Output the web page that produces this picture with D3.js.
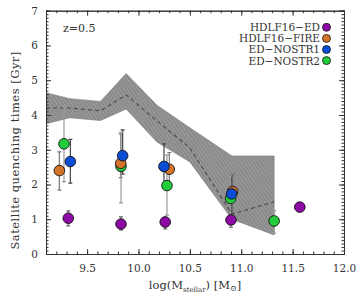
<!DOCTYPE html>
<html>
<head>
<meta charset="utf-8">
<script src="https://cdn.jsdelivr.net/npm/d3@7"></script>
<style>
  body { margin: 0; background: #fff; }
  text { font-family: "DejaVu Serif", "Liberation Serif", serif; fill: #333; }
</style>
</head>
<body>
<svg id="chart" width="357" height="298"></svg>
<script>
// shaded band + median (simulation range)
var bandX   = [9.1, 9.33, 9.63, 9.88, 10.18, 10.5, 10.91, 11.32];
var bandLo  = [3.75, 3.92, 3.84, 4.17, 3.22, 2.65, 1.0, 0.55];
var bandHi  = [4.64, 4.47, 4.39, 5.19, 4.28, 3.63, 2.82, 2.82];
var bandMed = [4.2, 4.2, 4.12, 4.58, 3.83, 3.05, 1.15, 1.5];

// series
var seriesNames = ['HDLF16\u2212ED', 'HDLF16\u2212FIRE', 'ED\u2212NOSTR1', 'ED\u2212NOSTR2'];
var edX   = [9.317, 9.83, 10.26, 10.90, 11.57];
var edY   = [1.03, 0.86, 0.92, 0.98, 1.35];
var edLo  = [0.81, 0.69, 0.72, 0.77, null];
var edHi  = [1.24, 1.07, 1.06, 1.15, null];
var fireX  = [9.23, 9.827, 10.30, 10.916];
var fireY  = [2.40, 2.61, 2.44, 1.80];
var fireLo = [1.84, 2.2, 2.0, 1.2];
var fireHi = [2.94, 3.45, 2.92, 2.3];
var n1X  = [9.337, 9.846, 10.248, 10.906];
var n1Y  = [2.66, 2.83, 2.52, 1.73];
var n1Lo = [2.04, 2.3, 1.9, 1.0];
var n1Hi = [3.30, 3.57, 3.17, 2.25];
var n2X  = [9.275, 9.83, 10.277, 10.897, 11.32];
var n2Y  = [3.17, 2.52, 1.97, 1.60, 0.95];
var n2Lo = [2.08, 1.47, 1.12, 0.9, 0.6];
var n2Hi = [4.25, 3.5, 2.85, 2.25, 1.25];

var xTicks = [9.5, 10.0, 10.5, 11.0, 11.5, 12.0];
var yTicks = [0, 1, 2, 3, 4, 5, 6, 7];

var colors = ['#8e0aa6', '#d4742a', '#0a4ed6', '#22cc3a'];
var errColors = ['#666', '#777', '#444', '#999'];

var svg = d3.select('#chart');
var margin = {top: 10.7, right: 13, bottom: 44, left: 46},
  width = 357 - margin.left - margin.right,
  height = 298 - margin.top - margin.bottom;

var x = d3.scaleLinear().domain([9.1, 12.0]).range([0, width]);
var y = d3.scaleLinear().domain([0, 7]).range([height, 0]);

var defs = svg.append('defs');
var pat = defs.append('pattern')
  .attr('id', 'hatch')
  .attr('patternUnits', 'userSpaceOnUse')
  .attr('width', 3).attr('height', 3)
  .attr('patternTransform', 'rotate(-35)');
pat.append('rect').attr('width', 3).attr('height', 3).attr('fill', '#8a8a8a');
pat.append('rect').attr('width', 1).attr('height', 3).attr('fill', '#9c9c9c');

defs.append('clipPath').attr('id', 'clip')
  .append('rect').attr('width', width).attr('height', height);

var chart = svg.append('g')
  .attr('transform', 'translate(' + margin.left + ',' + margin.top + ')');

var plot = chart.append('g').attr('clip-path', 'url(#clip)');

var band = bandX.map(function(d, i) { return {x: d, lo: bandLo[i], hi: bandHi[i], med: bandMed[i]}; });

plot.append('path')
  .datum(band)
  .attr('fill', 'url(#hatch)')
  .attr('stroke', '#777')
  .attr('stroke-width', 0.6)
  .attr('d', d3.area()
    .x(function(d) { return x(d.x); })
    .y0(function(d) { return y(d.lo); })
    .y1(function(d) { return y(d.hi); }));

plot.append('path')
  .datum(band)
  .attr('fill', 'none')
  .attr('stroke', '#4a4a4a')
  .attr('stroke-width', 1.1)
  .attr('stroke-dasharray', '4,3')
  .attr('d', d3.line()
    .x(function(d) { return x(d.x); })
    .y(function(d) { return y(d.med); }));

var series = [
  {xs: edX, ys: edY, lo: edLo, hi: edHi},
  {xs: fireX, ys: fireY, lo: fireLo, hi: fireHi},
  {xs: n1X, ys: n1Y, lo: n1Lo, hi: n1Hi},
  {xs: n2X, ys: n2Y, lo: n2Lo, hi: n2Hi}
];

// error bars first, then markers on top
series.forEach(function(s, k) {
  var pts = s.xs.map(function(d, i) { return {x: d, y: s.ys[i], lo: s.lo[i], hi: s.hi[i]}; })
    .filter(function(d) { return d.lo != null; });
  var g = plot.append('g').attr('stroke', errColors[k]).attr('stroke-width', 1.2);
  pts.forEach(function(d) {
    g.append('line').attr('x1', x(d.x)).attr('x2', x(d.x)).attr('y1', y(d.lo)).attr('y2', y(d.hi));
    g.append('line').attr('x1', x(d.x) - 2).attr('x2', x(d.x) + 2).attr('y1', y(d.lo)).attr('y2', y(d.lo));
    g.append('line').attr('x1', x(d.x) - 2).attr('x2', x(d.x) + 2).attr('y1', y(d.hi)).attr('y2', y(d.hi));
  });
});

[3, 1, 2, 0].forEach(function(k) {
  var s = series[k];
  plot.selectAll('.pt' + k)
    .data(s.xs.map(function(d, i) { return {x: d, y: s.ys[i]}; }))
    .enter()
    .append('circle')
    .attr('cx', function(d) { return x(d.x); })
    .attr('cy', function(d) { return y(d.y); })
    .attr('r', 5.3)
    .attr('fill', colors[k])
    .attr('stroke', '#111')
    .attr('stroke-width', 0.9);
});

// axes: inward ticks on all four sides
function styleAxis(g) {
  g.select('.domain').attr('stroke', '#333').attr('stroke-width', 1);
  g.selectAll('.tick line').attr('stroke', '#333');
  g.selectAll('.tick text').style('font-size', '10.5px').attr('fill', '#444');
}

var xMinor = d3.range(9.1, 12.001, 0.1);
var yMinor = d3.range(0, 7.001, 0.1);

chart.append('g').attr('transform', 'translate(0,' + height + ')')
  .call(d3.axisBottom(x).tickValues(xMinor).tickSize(-2.5).tickFormat(''))
  .call(styleAxis);
chart.append('g').attr('transform', 'translate(0,' + height + ')')
  .call(d3.axisBottom(x).tickValues(xTicks).tickSizeInner(-5).tickSizeOuter(0)
    .tickPadding(11).tickFormat(d3.format('.1f')))
  .call(styleAxis);
chart.append('g')
  .call(d3.axisTop(x).tickValues(xMinor).tickSize(-2.5).tickFormat(''))
  .call(styleAxis);
chart.append('g')
  .call(d3.axisTop(x).tickValues(xTicks).tickSize(-5).tickFormat(''))
  .call(styleAxis);

chart.append('g')
  .call(d3.axisLeft(y).tickValues(yMinor).tickSize(-2.5).tickFormat(''))
  .call(styleAxis);
chart.append('g')
  .call(d3.axisLeft(y).tickValues(yTicks).tickSizeInner(-5).tickSizeOuter(0)
    .tickPadding(8).tickFormat(d3.format('d')))
  .call(styleAxis);
chart.append('g').attr('transform', 'translate(' + width + ',0)')
  .call(d3.axisRight(y).tickValues(yMinor).tickSize(-2.5).tickFormat(''))
  .call(styleAxis);
chart.append('g').attr('transform', 'translate(' + width + ',0)')
  .call(d3.axisRight(y).tickValues(yTicks).tickSize(-5).tickFormat(''))
  .call(styleAxis);

// labels
chart.append('text')
  .attr('x', 17).attr('y', 21)
  .style('font-size', '11px')
  .text('z=0.5');

svg.append('text')
  .attr('transform', 'translate(19,' + (margin.top + height / 2 + 18) + ') rotate(-90)')
  .attr('text-anchor', 'middle')
  .style('font-size', '11.5px')
  .style('letter-spacing', '0.5px')
  .text('Satellite quenching times [Gyr]');

var xl = svg.append('text')
  .attr('x', margin.left + width / 2).attr('y', 289)
  .attr('text-anchor', 'middle')
  .style('font-size', '11.5px');
xl.append('tspan').text('log(M');
xl.append('tspan').attr('dy', 3).style('font-size', '7px').text('stellar');
xl.append('tspan').attr('dy', -3).text(') [M');
xl.append('tspan').attr('dy', 2).style('font-size', '8px').text('\u2299');
xl.append('tspan').attr('dy', -2).text(']');

// legend
var leg = chart.append('g');
seriesNames.forEach(function(name, k) {
  var ly = 16.6 + k * 11.1;
  leg.append('text')
    .attr('x', width - 24).attr('y', ly + 4)
    .attr('text-anchor', 'end')
    .style('font-size', '10.5px')
    .text(name);
  leg.append('circle')
    .attr('cx', width - 17.5).attr('cy', ly)
    .attr('r', 4)
    .attr('fill', colors[k])
    .attr('stroke', '#111')
    .attr('stroke-width', 0.8);
});
</script>
</body>
</html>
